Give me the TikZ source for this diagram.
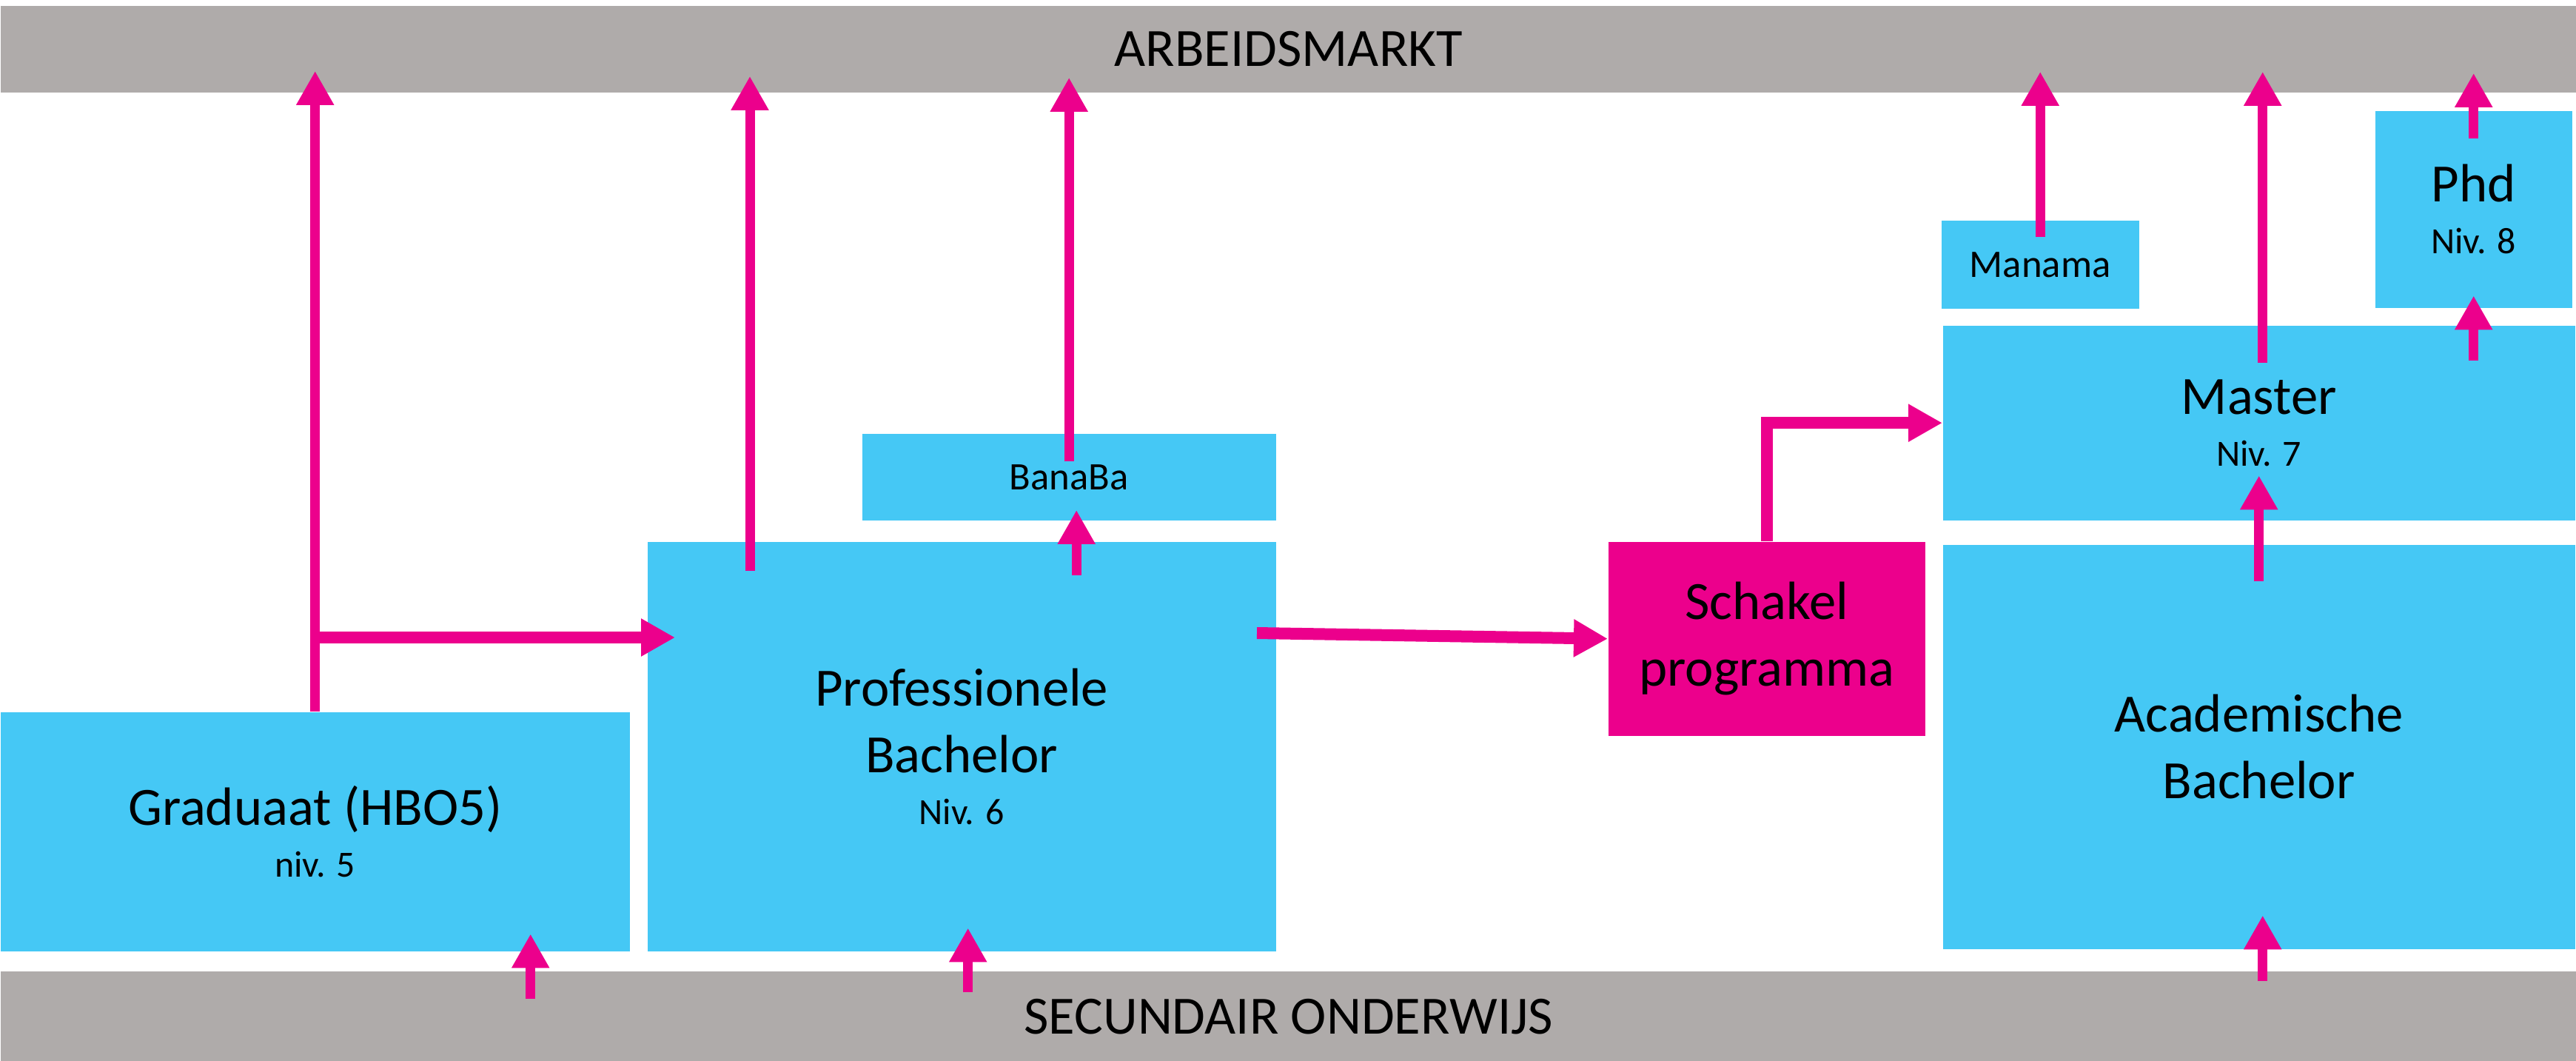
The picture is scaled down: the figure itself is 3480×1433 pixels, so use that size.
\documentclass[tikz,border=0pt]{standalone}
\usepackage{fontspec}
\setmainfont{Carlito}
\usetikzlibrary{arrows.meta, positioning}
\definecolor{boxblue}{RGB}{69,200,245}
\definecolor{linkpink}{RGB}{236,0,140}
\definecolor{bargray}{RGB}{175,171,170}
\newcommand{\bigfont}{\fontsize{20.7}{25.6}\selectfont}
\newcommand{\nivfont}{\fontsize{14.2}{17}\selectfont}
\newcommand{\smallboxfont}{\fontsize{15}{18}\selectfont}

\begin{document}
\begin{tikzpicture}[x=0.1mm, y=-0.1mm,
  box/.style={fill=boxblue, inner sep=0pt, anchor=north west, align=center, font=\bigfont},
  bar/.style={fill=bargray, inner sep=0pt, anchor=north west, minimum width=348mm, font=\bigfont},
  arr/.style={linkpink, line width=1.3mm, -{Triangle[width=4.8mm, length=4.6mm]}},
  arrh/.style={arr, line width=1.6mm}]
\useasboundingbox (0,0) rectangle (3480,1433);

% balken
\node[bar, minimum height=11.75mm] (arbeid) at (0,7) {ARBEIDSMARKT};
\node[bar, minimum height=12.2mm] (secundair) at (0,1311) {SECUNDAIR ONDERWIJS};

% hoger onderwijs
\node[box, minimum width=85mm, minimum height=32.3mm] (grad) at (0,961) {Graduaat (HBO5)\\[-2mm]{\nivfont niv. 5}};
\node[box, minimum width=84.9mm, minimum height=55.3mm] (prof) at (874,731) {Professionele\\Bachelor\\[-2mm]{\nivfont Niv. 6}};
\node[box, minimum width=55.9mm, minimum height=11.75mm, font=\smallboxfont] (banaba) at (1164,585) {BanaBa};
\node[box, fill=linkpink, minimum width=42.8mm, minimum height=26.2mm] (schakel) at (2172,731) {Schakel\\programma};
\node[box, minimum width=26.7mm, minimum height=11.95mm, font=\smallboxfont] (manama) at (2622,297) {Manama};
\node[box, minimum width=26.6mm, minimum height=26.6mm] (phd) at (3208,149) {Phd\\[-2mm]{\nivfont Niv. 8}};
\node[box, minimum width=85.4mm, minimum height=26.3mm] (master) at (2624,439) {Master\\[-2mm]{\nivfont Niv. 7}};
\node[box, minimum width=85.4mm, minimum height=54.6mm] (acad) at (2624,735) {Academische\\Bachelor};

% graduaat en professionele bachelor
\coordinate (gsplit) at (426,861);
\coordinate (p6up) at (1013,771);
\coordinate (p6out) at (1698,855);
\draw[arr] (grad.north) -- ([yshift=3mm]grad.north |- arbeid.south);
\draw[arrh] (gsplit) -- ([xshift=3.8mm]gsplit -| prof.west);
\draw[arr] (p6up) -- ([yshift=2.3mm]p6up |- arbeid.south);
\draw[arr] ([yshift=2.1mm]banaba.center) -- ([yshift=2.1mm]banaba.center |- arbeid.south);
\draw[arr] ([xshift=1mm, yshift=-4.6mm]banaba.south |- prof.north) -- ([xshift=1mm, yshift=1.5mm]banaba.south);
\draw[arrh] (p6out) -- (schakel.west);
\draw[arrh] (schakel.north) |- (master.west);

% academische kant
\draw[arr] ([yshift=3.7mm]manama.center) -- ([yshift=2.9mm]manama.center |- arbeid.south);
\draw[arr] ([xshift=0.5mm, yshift=-5.1mm]master.north) -- ([xshift=0.5mm, yshift=2.9mm]master.north |- arbeid.south);
\draw[arr] ([yshift=-3.8mm]phd.north) -- ([yshift=2.7mm]phd.north |- arbeid.south);
\draw[arr] ([yshift=-4.8mm]phd.south |- master.north) -- ([yshift=1.7mm]phd.south);
\draw[arr] ([yshift=-5mm]acad.north) -- ([yshift=6.1mm]master.south);

% vanuit secundair onderwijs
\draw[arr] ([xshift=29.1mm, yshift=-3.8mm]grad.south |- secundair.north) -- ([xshift=29.1mm, yshift=2.4mm]grad.south);
\draw[arr] ([xshift=0.85mm, yshift=-2.9mm]prof.south |- secundair.north) -- ([xshift=0.85mm, yshift=3.2mm]prof.south);
\draw[arr] ([xshift=0.5mm, yshift=-1.4mm]acad.south |- secundair.north) -- ([xshift=0.5mm, yshift=4.6mm]acad.south);
\end{tikzpicture}
\end{document}
